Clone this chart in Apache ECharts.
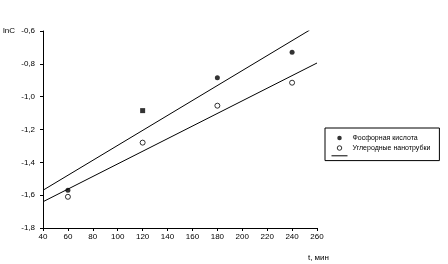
<!DOCTYPE html>
<html>
<head>
<meta charset="utf-8">
<script src="https://cdn.jsdelivr.net/npm/echarts@6/dist/echarts.min.js"></script>
<style>
  html, body { margin: 0; padding: 0; background: #fff; }
  #chart { width: 448px; height: 264px; }
</style>
</head>
<body>
<div id="chart"></div>
<script>
// время, мин
const times = [60, 120, 180, 240]
// lnC, фосфорная кислота
const acid = [-1.57, -1.085, -0.885, -0.73]
// lnC, углеродные нанотрубки
const tubes = [-1.61, -1.28, -1.055, -0.915]
// концы линий тренда
const acidFit = [[40, -1.57], [254, -0.595]]
const tubesFit = [[40, -1.64], [260, -0.795]]
// маркер для каждой точки первой серии
const acidSymbols = ['circle', 'rect', 'circle', 'circle']

const seriesNames = ['Фосфорная кислота', 'Углеродные нанотрубки', 'fit']

const font = 'Liberation Sans, Arial, sans-serif'
const chart = echarts.init(document.getElementById('chart'), null, { renderer: 'canvas' })

let option = {
	backgroundColor: '#fff',
	animation: false,
	grid: {
		left: 43,
		right: 131,
		top: 31,
		bottom: 36
	},
	xAxis: {
		type: 'value',
		min: 40,
		max: 260,
		interval: 20,
		name: 't, мин',
		nameLocation: 'end',
		nameGap: 12,
		nameTextStyle: { color: '#000', fontSize: 8, fontFamily: font, align: 'right', verticalAlign: 'top', padding: [26, 0, 0, 0] },
		axisLine: { lineStyle: { color: '#000', width: 1 } },
		axisTick: { inside: false, length: 3, lineStyle: { color: '#000' } },
		axisLabel: { color: '#000', fontSize: 8, fontFamily: font, margin: 5 },
		splitLine: { show: false }
	},
	yAxis: {
		type: 'value',
		min: -1.8,
		max: -0.6,
		interval: 0.2,
		name: 'lnC',
		nameLocation: 'end',
		nameGap: 0,
		nameTextStyle: { color: '#000', fontSize: 8, fontFamily: font, align: 'right', verticalAlign: 'middle', padding: [0, 28, 0, 0] },
		axisLine: { show: true, lineStyle: { color: '#000', width: 1 } },
		axisTick: { show: true, inside: false, length: 3, lineStyle: { color: '#000' } },
		axisLabel: {
			color: '#000', fontSize: 8, fontFamily: font, margin: 8,
			formatter: v => v.toFixed(1).replace('.', ',')
		},
		splitLine: { show: false }
	},
	legend: {
		orient: 'vertical',
		left: 325,
		top: 128,
		padding: [6, 9, 3, 6],
		itemGap: 2,
		itemWidth: 16,
		itemHeight: 4.5,
		borderColor: '#000',
		borderWidth: 1,
		textStyle: { color: '#000', fontSize: 7, fontFamily: font, lineHeight: 8 },
		formatter: name => (name === 'fit' ? '' : name),
		data: [
			{ name: seriesNames[0], icon: 'circle', itemStyle: { color: '#000' } },
			{ name: seriesNames[1], icon: 'circle', itemStyle: { color: '#fff', borderColor: '#000', borderWidth: 1 } },
			{ name: seriesNames[2], itemStyle: { opacity: 0 }, lineStyle: { width: 1, color: '#000' } }
		]
	},
	series: [
		{
			name: seriesNames[0],
			type: 'scatter',
			symbolSize: 5,
			itemStyle: { color: '#000' },
			data: times.map((t, i) => ({ value: [t, acid[i]], symbol: acidSymbols[i] }))
		},
		{
			name: seriesNames[1],
			type: 'scatter',
			symbol: 'circle',
			symbolSize: 5,
			itemStyle: { color: '#fff', borderColor: '#000', borderWidth: 1 },
			data: times.map((t, i) => [t, tubes[i]])
		},
		{
			name: seriesNames[2],
			type: 'line',
			showSymbol: false,
			symbol: 'none',
			lineStyle: { color: '#000', width: 1 },
			itemStyle: { color: '#000' },
			data: acidFit
		},
		{
			name: seriesNames[2],
			type: 'line',
			showSymbol: false,
			symbol: 'none',
			lineStyle: { color: '#000', width: 1 },
			itemStyle: { color: '#000' },
			data: tubesFit
		}
	]
}
chart.setOption(option)
</script>
</body>
</html>
